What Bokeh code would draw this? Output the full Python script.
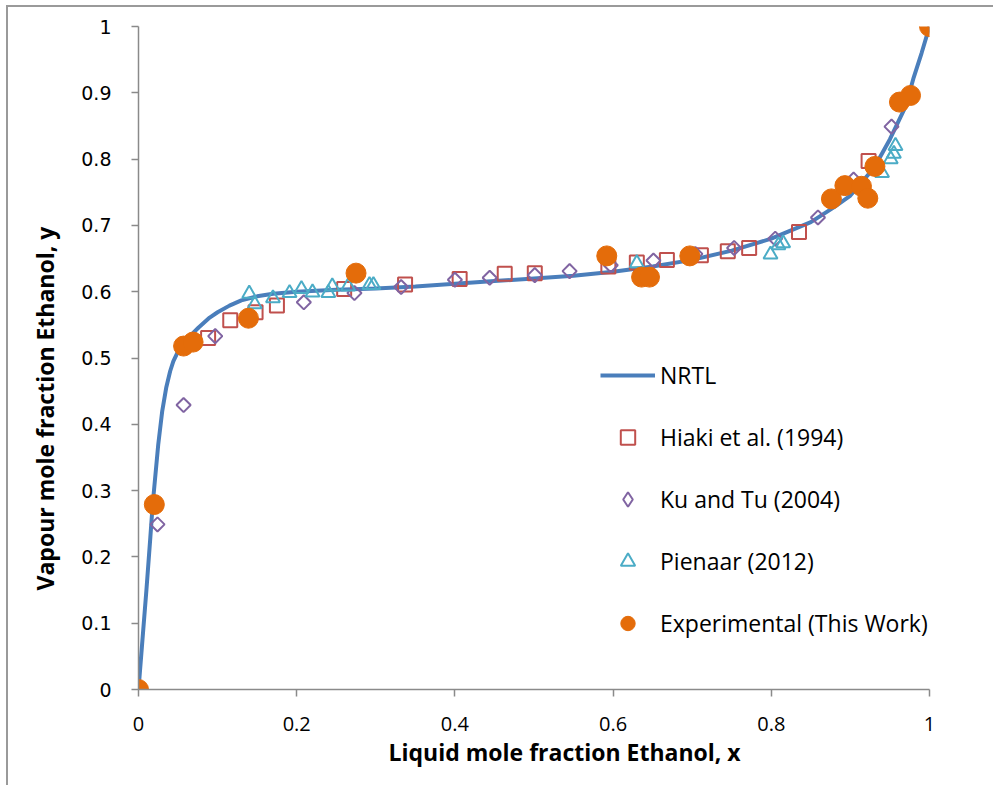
import math
from bokeh.plotting import figure
from bokeh.models import Range1d, FixedTicker, Legend, LegendItem, Title
from bokeh.embed import file_html
from bokeh.resources import INLINE

# NRTL model curve
nrtl_x = [0, 0.005, 0.01, 0.015, 0.018, 0.025, 0.03, 0.035, 0.04, 0.044, 0.05, 0.057, 0.065,
          0.076, 0.09, 0.10, 0.115, 0.13, 0.15, 0.17, 0.2, 0.25, 0.3, 0.35, 0.4, 0.45, 0.5,
          0.55, 0.6, 0.65, 0.7, 0.75, 0.8, 0.85, 0.88, 0.9, 0.93, 0.95, 0.97, 0.98, 0.99, 1.0]
nrtl_y = [0, 0.075, 0.15, 0.23, 0.28, 0.37, 0.42, 0.455, 0.48, 0.495, 0.51, 0.522, 0.533,
          0.546, 0.561, 0.569, 0.579, 0.587, 0.593, 0.597, 0.600, 0.603, 0.605, 0.608, 0.612,
          0.616, 0.620, 0.624, 0.630, 0.638, 0.648, 0.662, 0.680, 0.705, 0.728, 0.745, 0.787,
          0.830, 0.880, 0.923, 0.960, 1.0]

hiaki_x = [0.088, 0.116, 0.148, 0.175, 0.260, 0.337, 0.406, 0.463, 0.501, 0.594, 0.630, 0.668,
           0.711, 0.745, 0.772, 0.835, 0.923]
hiaki_y = [0.530, 0.557, 0.569, 0.579, 0.604, 0.611, 0.619, 0.627, 0.628, 0.638, 0.644, 0.648,
           0.655, 0.661, 0.666, 0.690, 0.797]

ku_x = [0.024, 0.057, 0.097, 0.209, 0.273, 0.332, 0.400, 0.444, 0.501, 0.545, 0.597, 0.651,
        0.704, 0.753, 0.805, 0.859, 0.904, 0.952]
ku_y = [0.249, 0.429, 0.533, 0.584, 0.598, 0.607, 0.618, 0.621, 0.625, 0.631, 0.640, 0.647,
        0.657, 0.666, 0.680, 0.712, 0.769, 0.849]

pienaar_x = [0.140, 0.147, 0.170, 0.191, 0.206, 0.220, 0.240, 0.245, 0.265, 0.292, 0.297, 0.630,
             0.799, 0.809, 0.815, 0.940, 0.951, 0.955, 0.957]
pienaar_y = [0.597, 0.581, 0.590, 0.598, 0.604, 0.599, 0.598, 0.608, 0.608, 0.610, 0.610, 0.643,
             0.656, 0.670, 0.673, 0.779, 0.800, 0.808, 0.820]

exp_x = [0.0, 0.020, 0.057, 0.069, 0.139, 0.275, 0.592, 0.636, 0.646, 0.697, 0.876, 0.893,
         0.914, 0.922, 0.931, 0.962, 0.976, 1.0]
exp_y = [0.0, 0.279, 0.518, 0.524, 0.560, 0.628, 0.654, 0.622, 0.622, 0.654, 0.740, 0.760,
         0.759, 0.741, 0.789, 0.886, 0.896, 1.0]

x_ticks = [0, 0.2, 0.4, 0.6, 0.8, 1]
x_tick_labels = ["0", "0.2", "0.4", "0.6", "0.8", "1"]
y_ticks = [0, 0.1, 0.2, 0.3, 0.4, 0.5, 0.6, 0.7, 0.8, 0.9, 1]
y_tick_labels = ["0", "0.1", "0.2", "0.3", "0.4", "0.5", "0.6", "0.7", "0.8", "0.9", "1"]

series_names = ["NRTL", "Hiaki et al. (1994)", "Ku and Tu (2004)", "Pienaar (2012)",
                "Experimental (This Work)"]
x_title = "Liquid mole fraction Ethanol, x"
y_title = "Vapour mole fraction Ethanol, y"

p = figure(width=987, height=780, x_range=Range1d(0, 1), y_range=Range1d(0, 1),
           output_backend="svg", toolbar_location=None,
           min_border_left=130, min_border_right=66, min_border_top=19, min_border_bottom=98)
p.styles = {"border-left": "2px solid #9a9a9a", "border-top": "2px solid #9a9a9a",
            "margin-left": "6px", "margin-top": "5px"}
p.outline_line_color = None
p.xgrid.visible = False
p.ygrid.visible = False
p.background_fill_color = "white"
p.border_fill_color = "white"

axis_col = "#8a8a8a"
for ax in (p.xaxis[0], p.yaxis[0]):
    ax.axis_line_color = axis_col
    ax.axis_line_width = 1.5
    ax.major_tick_line_color = axis_col
    ax.major_tick_line_width = 1.5
    ax.major_tick_in = 0
    ax.major_tick_out = 7
    ax.minor_tick_in = 0
    ax.minor_tick_out = 0
    ax.major_label_text_color = "black"

p.xaxis.ticker = FixedTicker(ticks=x_ticks)
p.xaxis.major_label_overrides = {t: l for t, l in zip(x_ticks, x_tick_labels)}
p.xaxis.major_label_text_font = "Open Sans"
p.xaxis.major_label_text_font_size = "20px"
p.xaxis.major_label_standoff = 20

p.yaxis.ticker = FixedTicker(ticks=y_ticks)
p.yaxis.major_label_overrides = {t: l for t, l in zip(y_ticks, y_tick_labels)}
p.yaxis.major_label_text_font = "DejaVu Sans"
p.yaxis.major_label_text_font_size = "19px"
p.yaxis.major_label_standoff = 20

r_nrtl = p.line(nrtl_x, nrtl_y, line_color="#4A7EBB", line_width=4)
r_hiaki = p.scatter(hiaki_x, hiaki_y, marker="square", size=14, fill_color=None,
                    line_color="#C0504D", line_width=2)
r_ku = p.scatter(ku_x, ku_y, marker="square", angle=math.pi / 4, size=10, fill_color=None,
                 line_color="#8064A2", line_width=2)
# legend key for the diamonds (a NaN point: nothing is drawn in the plot area)
r_ku_key = p.scatter(x=[float("nan")], y=[float("nan")], marker="diamond", size=14,
                     fill_color=None, line_color="#8064A2", line_width=2)
r_pie = p.scatter(pienaar_x, pienaar_y, marker="triangle", size=14, fill_color=None,
                  line_color="#4BACC6", line_width=2)
r_exp = p.scatter(exp_x, exp_y, marker="circle", size=20, fill_color="#E46C0A",
                  line_color="#E46C0A")

legend = Legend(items=[LegendItem(label=n, renderers=[r]) for n, r in
                       zip(series_names, [r_nrtl, r_hiaki, r_ku_key, r_pie, r_exp])],
                location=(462, 48), glyph_width=55, glyph_height=36, label_height=36,
                spacing=26, padding=0, margin=0, border_line_color=None,
                background_fill_alpha=0, label_standoff=5, label_text_color="black",
                label_text_font="Open Sans", label_text_font_size="23px")
p.add_layout(legend)

# axis titles
p.add_layout(Title(text=x_title, align="left", offset=250, text_font="Open Sans",
                   text_font_style="bold", text_font_size="23px", text_color="black",
                   standoff=0), "below")
p.add_layout(Title(text=y_title, align="left", offset=99, text_font="Open Sans",
                   text_font_style="bold", text_font_size="23px", text_color="black",
                   standoff=36), "left")

open("out.html", "w").write(file_html(p, INLINE))
